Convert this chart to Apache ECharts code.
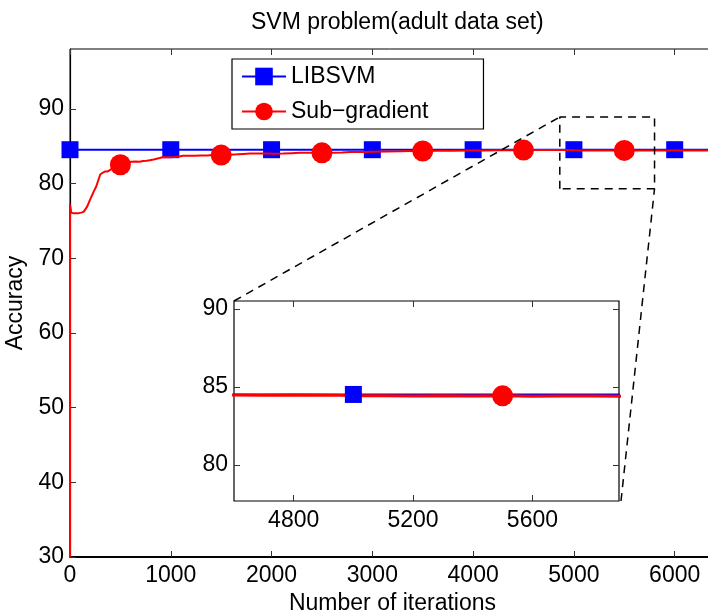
<!DOCTYPE html>
<html><head><meta charset="utf-8">
<script src="https://cdn.jsdelivr.net/npm/echarts@6/dist/echarts.min.js"></script>
<style>html,body{margin:0;padding:0;background:#fff}#c{width:708px;height:611px}</style>
</head><body><div id="c"></div>
<script>
// ---- data ----
const titleText = 'SVM problem(adult data set)';
const xName = 'Number of iterations';
const yName = 'Accuracy';
const seriesNames = ['LIBSVM', 'Sub\u2212gradient'];
const xTicks = [0, 1000, 2000, 3000, 4000, 5000, 6000];
const yTicks = [30, 40, 50, 60, 70, 80, 90];
const insetXTicks = [4800, 5200, 5600];
const insetYTicks = [80, 85, 90];
const mainXRange = [0, 6400];
const mainYRange = [30, 98];
const insetXRange = [4600, 5890];
const insetYRange = [77.7, 90.5];
const zoomBoxX = [4860, 5800];
const zoomBoxY = [79.3, 88.9];

const libsvmCurve = [[0,84.52],[1000,84.52],[2000,84.52],[3000,84.52],[4000,84.52],[5000,84.52],[6000,84.52],[6400,84.52]];
const libsvmMarkerX = [0, 1000, 2000, 3000, 4000, 5000, 6000];

const subgradCurve = [
  [0,30],[0,77.2],[8,77.2],[12,76.1],[40,76.0],[80,76.0],[110,76.1],[135,76.2],[150,76.4],[170,76.9],
  [195,77.7],[215,78.3],[235,78.9],[260,79.6],[280,80.4],[300,81.2],[320,81.4],[345,81.6],[370,81.6],[395,81.8],
  [420,82.0],[450,82.2],[475,82.4],[500,82.5],[540,82.7],[580,82.8],[610,82.9],[650,82.95],[690,82.9],[725,83.0],
  [760,83.05],[790,83.1],[830,83.2],[860,83.3],[890,83.4],[925,83.55],[960,83.5],[990,83.5],[1040,83.55],[1080,83.6],
  [1120,83.7],[1180,83.7],[1240,83.72],[1300,83.75],[1360,83.75],[1420,83.8],[1500,83.8],[1580,83.85],[1660,83.9],[1720,83.95],
  [1786,84.0],[1860,84.0],[1950,84.0],[2040,83.98],[2115,84.0],[2200,84.05],[2280,84.1],[2380,84.1],[2500,84.1],[2600,84.12],
  [2700,84.15],[2780,84.2],[2900,84.22],[3000,84.25],[3150,84.28],[3275,84.3],[3400,84.33],[3500,84.35],[3650,84.37],[3800,84.38],
  [3950,84.4],[4100,84.42],[4250,84.44],[4400,84.46],[4500,84.47],[4600,84.48],[4700,84.47],[4800,84.48],[4900,84.47],[4960,84.46],
  [5000,84.44],[5100,84.43],[5200,84.42],[5300,84.43],[5400,84.42],[5500,84.43],[5600,84.41],[5700,84.42],[5800,84.42],[5900,84.41],
  [6000,84.42],[6150,84.43],[6300,84.42],[6400,84.42]
];
const subgradMarkerX = [500, 1500, 2500, 3500, 4500, 5500];

// ---- build ----
const FONT = 'Liberation Sans, Arial, Helvetica, sans-serif';
const FS = 23;
const BLUE = '#0000ff', RED = '#ff0000';
function withMarkers(curve, markerX) {
  return curve.map((p, i) => {
    const isFirstAt = curve.findIndex(q => q[0] === p[0]) === i;
    return (markerX.includes(p[0]) && isFirstAt) ? {value: p} : {value: p, symbol: 'none'};
  });
}
const blueData = withMarkers(libsvmCurve, libsvmMarkerX);
const redData = withMarkers(subgradCurve, subgradMarkerX);
const boxData = [[zoomBoxX[0], zoomBoxY[0]], [zoomBoxX[0], zoomBoxY[1]], [zoomBoxX[1], zoomBoxY[1]], [zoomBoxX[1], zoomBoxY[0]], [zoomBoxX[0], zoomBoxY[0]]];

const plain = v => String(v);
const lbl = (extra) => Object.assign({color: '#000', fontFamily: FONT, fontSize: FS}, extra);
const tick = (vals) => ({show: true, inside: true, length: 6, customValues: vals, lineStyle: {color: '#333', width: 1}});

const chart = echarts.init(document.getElementById('c'), null, {renderer: 'canvas'});
const option = {
  animation: false,
  backgroundColor: '#fff',
  title: {text: titleText, left: 246, top: 6, textStyle: {fontFamily: FONT, fontSize: FS, fontWeight: 'normal', color: '#000'}},
  legend: {
    data: seriesNames, orient: 'vertical', left: 232, top: 59,
    itemWidth: 44, itemHeight: 22, itemGap: 12, padding: [6, 55, 6, 9],
    borderColor: '#000', borderWidth: 1.2, backgroundColor: '#fff',
    textStyle: {fontFamily: FONT, fontSize: FS, color: '#000'}, z: 20
  },
  grid: [
    {left: 70, top: 49, right: -7, bottom: 54, show: true, borderColor: '#000', borderWidth: 1, backgroundColor: '#fff',
     containLabel: false, outerBoundsMode: 'none'},
    {left: 234, top: 301, right: 89, bottom: 110, show: true, borderColor: '#000', borderWidth: 1.2, backgroundColor: '#fff',
     containLabel: false, outerBoundsMode: 'none', z: 10}
  ],
  xAxis: [
    {type: 'value', gridIndex: 0, min: mainXRange[0], max: mainXRange[1], position: 'bottom',
     axisLine: {show: true, lineStyle: {color: '#000', width: 2}}, axisTick: tick(xTicks), splitLine: {show: false},
     axisLabel: lbl({customValues: xTicks, margin: 7, formatter: plain}),
     name: xName, nameLocation: 'middle', nameGap: 31, nameTextStyle: lbl({})},
    {type: 'value', gridIndex: 0, min: mainXRange[0], max: mainXRange[1], position: 'top',
     axisLine: {show: false}, axisTick: tick(xTicks), axisLabel: {show: false}, splitLine: {show: false}},
    {type: 'value', gridIndex: 1, min: insetXRange[0], max: insetXRange[1], position: 'bottom', z: 12,
     axisLine: {show: false}, axisTick: tick(insetXTicks), splitLine: {show: false},
     axisLabel: lbl({customValues: insetXTicks, margin: 8, formatter: plain})},
    {type: 'value', gridIndex: 1, min: insetXRange[0], max: insetXRange[1], position: 'top', z: 12,
     axisLine: {show: false}, axisTick: tick(insetXTicks), axisLabel: {show: false}, splitLine: {show: false}}
  ],
  yAxis: [
    {type: 'value', gridIndex: 0, min: mainYRange[0], max: mainYRange[1], position: 'left',
     axisLine: {show: true, lineStyle: {color: '#000', width: 1.2}}, axisTick: tick(yTicks), splitLine: {show: false},
     axisLabel: lbl({customValues: yTicks, margin: 6, formatter: plain}),
     name: yName, nameLocation: 'middle', nameGap: 34, nameTextStyle: lbl({})},
    {type: 'value', gridIndex: 1, min: insetYRange[0], max: insetYRange[1], position: 'left', z: 12,
     axisLine: {show: false}, axisTick: tick(insetYTicks), splitLine: {show: false},
     axisLabel: lbl({customValues: insetYTicks, margin: 6, formatter: plain})},
    {type: 'value', gridIndex: 1, min: insetYRange[0], max: insetYRange[1], position: 'right', z: 12,
     axisLine: {show: false}, axisTick: tick(insetYTicks), axisLabel: {show: false}, splitLine: {show: false}}
  ],
  series: [
    {name: seriesNames[0], type: 'line', xAxisIndex: 0, yAxisIndex: 0, data: blueData, showAllSymbol: true,
     symbol: 'rect', symbolSize: 17, clip: false, color: BLUE, lineStyle: {color: BLUE, width: 2}, itemStyle: {color: BLUE}, z: 3},
    {name: seriesNames[1], type: 'line', xAxisIndex: 0, yAxisIndex: 0, data: redData, showAllSymbol: true,
     symbol: 'circle', symbolSize: 21, clip: false, color: RED, lineStyle: {color: RED, width: 2}, itemStyle: {color: RED}, z: 4},
    {name: 'zoom', type: 'line', xAxisIndex: 0, yAxisIndex: 0, data: boxData, symbol: 'none', silent: true,
     lineStyle: {color: '#000', width: 1.5, type: [8, 6]}, z: 6},
    {name: seriesNames[0], type: 'line', xAxisIndex: 2, yAxisIndex: 1, data: blueData, showAllSymbol: true,
     symbol: 'rect', symbolSize: 17, clip: true, color: BLUE, lineStyle: {color: BLUE, width: 2}, itemStyle: {color: BLUE}, z: 11},
    {name: seriesNames[1], type: 'line', xAxisIndex: 2, yAxisIndex: 1, data: redData, showAllSymbol: true,
     symbol: 'circle', symbolSize: 21, clip: true, color: RED, lineStyle: {color: RED, width: 3}, itemStyle: {color: RED}, z: 11}
  ]
};
chart.setOption(option);

const p1 = chart.convertToPixel({seriesIndex: 3}, [insetXRange[0], insetYRange[1]]);
const p2 = chart.convertToPixel({seriesIndex: 3}, [insetXRange[1], insetYRange[0]]);
const q1 = chart.convertToPixel({seriesIndex: 0}, [zoomBoxX[0], zoomBoxY[1]]);
const q2 = chart.convertToPixel({seriesIndex: 0}, [zoomBoxX[1], zoomBoxY[0]]);
const dash = {stroke: '#000', lineWidth: 1.5, lineDash: [8, 6]};
chart.setOption({graphic: [
  {type: 'line', shape: {x1: p1[0], y1: p1[1], x2: q1[0], y2: q1[1]}, style: dash, z: 30, silent: true},
  {type: 'line', shape: {x1: p2[0] + 2, y1: p2[1], x2: q2[0], y2: q2[1]}, style: dash, z: 30, silent: true}
]});
</script></body></html>
